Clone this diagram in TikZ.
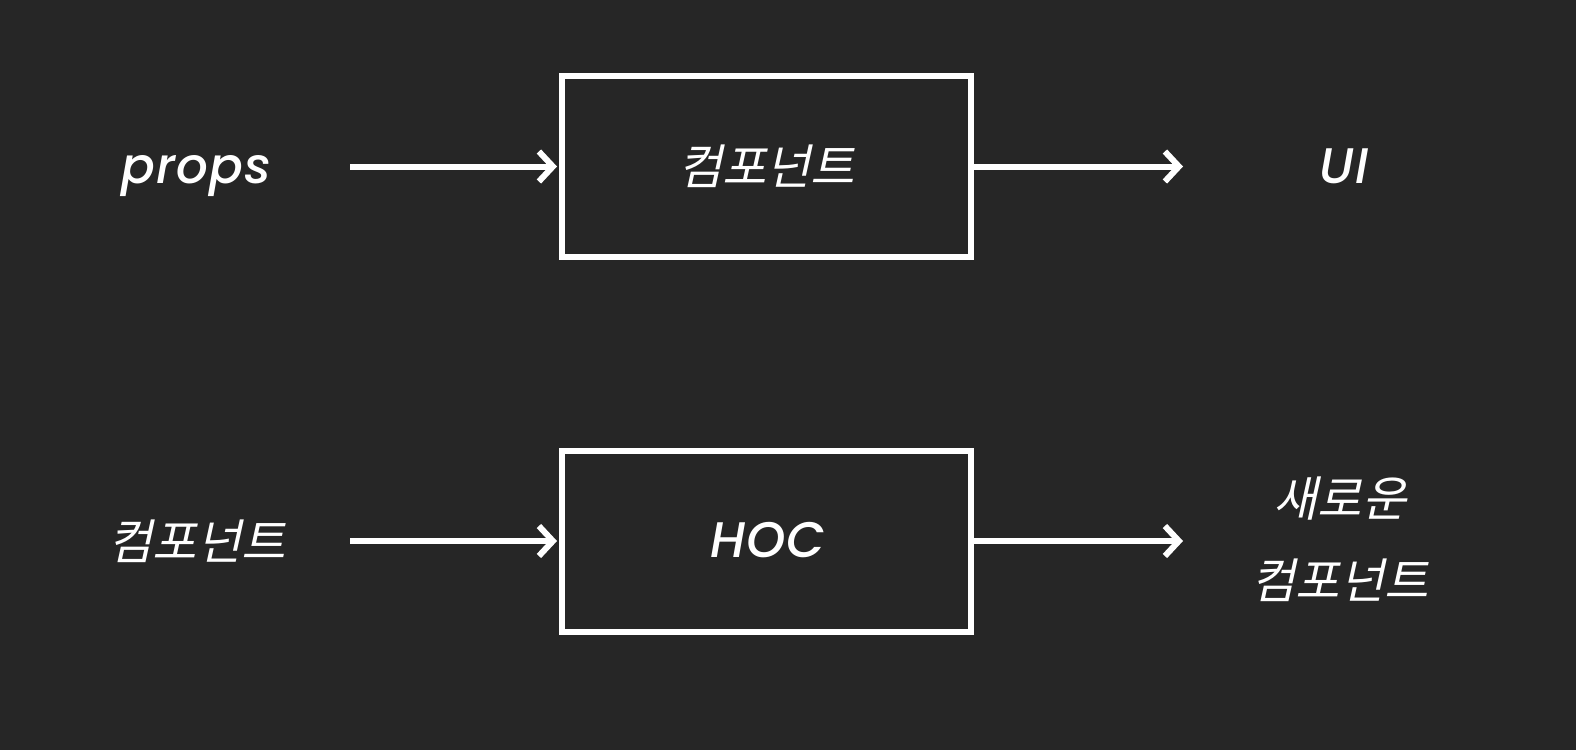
\documentclass[tikz,border=0pt]{standalone}
\usepackage{fontspec}
\usetikzlibrary{arrows.meta}
\setmainfont{Poppins}[UprightFont=* Medium, ItalicFont=* Medium Italic, LetterSpace=2]
\newfontfamily\kr{Noto Sans CJK KR}[FakeSlant=0.22]
\definecolor{bg}{HTML}{262626}
\tikzset{
  box/.style={draw=white, line width=6pt, minimum width=409pt, minimum height=181pt, inner sep=0pt},
  lbl/.style={text=white, font=\fontsize{50}{56}\selectfont\itshape, inner sep=0pt, anchor=base},
  krl/.style={text=white, font=\fontsize{48}{82}\selectfont\kr, inner sep=0pt, align=center},
  flow/.style={draw=white, line width=6pt, shorten >=2pt,
    -{Straight Barb[length=14pt,width=30pt,line width=6pt]}}
}
\begin{document}
\begin{tikzpicture}[x=1pt,y=-1pt]
\fill[bg] (0,0) rectangle (1576,750);
\useasboundingbox (0,0) rectangle (1576,750);
% top row
\node[box] (c1) at (766.5,166.5) {};
\node[krl] (c1t) at (c1.center) {컴포넌트};
\node[lbl] (props) at (196,183) {props};
\node[lbl] (ui) at (1344,183) {UI};
\coordinate (a1s) at (350,166.5);
\coordinate (a2e) at (1183,166.5);
\draw[flow] (a1s) -- (c1.west);
\draw[flow, shorten >=0pt] (c1.east) -- (a2e);
% bottom row
\node[box] (hoc) at (766.5,541) {};
\node[lbl] (hoct) at (768,557) {HOC};
\node[krl] (comp) at (197,541) {컴포넌트};
\node[krl] (newc) at (1340,539) {새로운\\컴포넌트};
\coordinate (b1s) at (350,541);
\coordinate (b2e) at (1183,541);
\draw[flow] (b1s) -- (hoc.west);
\draw[flow, shorten >=0pt] (hoc.east) -- (b2e);
\end{tikzpicture}
\end{document}
